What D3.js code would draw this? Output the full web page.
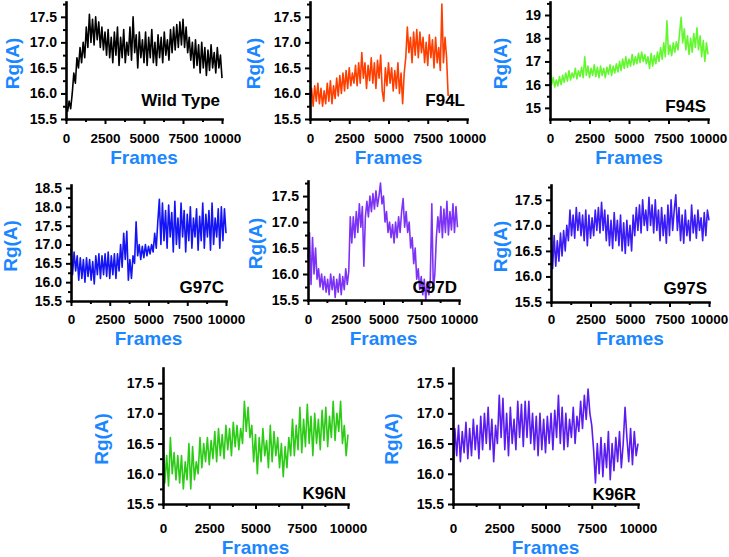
<!DOCTYPE html>
<html>
<head>
<meta charset="utf-8">
<script src="https://cdn.jsdelivr.net/npm/d3@7/dist/d3.min.js"></script>
<style>
  body { margin: 0; background: #fff; }
  svg text { font-family: Arial, "Liberation Sans", sans-serif; font-weight: bold; }
</style>
</head>
<body>
<div id="chart"></div>
<script>
// Rg over frames, one value every 100 frames
const frameStep = 100;

const wildType = [
  15.75, 15.65, 15.85, 15.7, 16.0, 16.4, 16.2, 16.7, 16.5, 16.9,
  16.6, 17.0, 16.7, 17.3, 16.9, 17.55, 17.0, 17.45, 16.95, 17.5,
  17.05, 17.4, 16.9, 17.3, 16.85, 17.2, 16.75, 17.25, 16.7, 17.1,
  16.6, 17.2, 16.75, 17.3, 16.55, 17.1, 16.7, 17.25, 16.6, 17.0,
  16.75, 17.3, 16.65, 17.5, 16.8, 17.15, 16.5, 17.2, 16.7, 17.05,
  16.6, 17.2, 16.55, 17.1, 16.7, 17.25, 16.6, 17.0, 16.55, 17.15,
  16.7, 17.1, 16.6, 17.2, 16.75, 17.05, 16.65, 17.25, 16.8, 17.3,
  16.85, 17.35, 16.9, 17.4, 16.95, 17.45, 16.9, 17.3, 16.8, 17.1,
  16.65, 17.0, 16.5, 17.05, 16.55, 16.95, 16.4, 17.0, 16.5, 16.9,
  16.35, 16.85, 16.45, 16.95, 16.5, 16.8, 16.4, 16.9, 16.5, 16.75, 16.3
];

const f94l = [
  15.9, 16.1, 15.75, 16.15, 15.85, 16.2, 15.8, 16.1, 15.75, 16.05,
  15.8, 16.2, 15.85, 16.25, 15.8, 16.15, 15.9, 16.3, 15.95, 16.35,
  16.0, 16.4, 16.05, 16.45, 16.1, 16.5, 16.15, 16.4, 16.2, 16.55,
  16.15, 16.6, 16.2, 16.8, 16.3, 16.6, 16.1, 16.55, 16.25, 16.7,
  16.2, 16.6, 16.1, 16.65, 16.3, 16.75, 16.05, 15.85, 16.5, 16.15,
  16.6, 16.2, 16.5, 16.05, 16.45, 16.1, 16.6, 16.0, 16.4, 15.8,
  16.4, 16.7, 17.3, 16.8, 17.1, 16.6, 17.2, 16.75, 17.25, 16.7,
  17.2, 16.8, 17.1, 16.6, 17.0, 16.55, 17.15, 16.7, 17.05, 16.5,
  17.1, 16.6, 16.9, 16.45, 17.75, 16.6, 17.1, 16.7, 15.95
];

const f94s = [
  16.8, 16.0, 16.3, 15.9, 16.2, 15.95, 16.35, 16.0, 16.4, 16.1,
  16.5, 16.15, 16.6, 16.2, 16.5, 16.3, 16.7, 16.25, 16.6, 16.35,
  16.75, 16.3, 17.2, 16.4, 16.8, 16.3, 16.7, 16.4, 16.85, 16.35,
  16.75, 16.3, 16.8, 16.4, 16.7, 16.3, 16.75, 16.45, 16.85, 16.4,
  16.8, 16.5, 16.9, 16.55, 17.0, 16.6, 17.1, 16.7, 17.2, 16.75,
  17.1, 16.8, 17.3, 16.85, 17.2, 16.9, 17.35, 16.95, 17.4, 17.0,
  17.3, 16.9, 17.2, 16.7, 17.35, 16.8, 17.25, 16.9, 17.4, 17.0,
  17.6, 17.1, 17.8, 17.2, 18.75, 17.3, 17.7, 17.25, 17.8, 17.4,
  17.85, 17.5, 18.2, 18.9, 17.8, 18.4, 17.5, 18.1, 17.3, 18.0,
  17.4, 18.2, 17.6, 18.45, 17.5, 18.1, 17.2, 17.9, 17.0, 17.8, 17.3
];

const g97c = [
  16.9, 16.2, 16.8, 16.3, 16.7, 16.05, 16.65, 16.1, 16.6, 16.0,
  16.65, 16.15, 16.6, 16.05, 16.55, 15.95, 16.7, 16.2, 16.75, 16.1,
  16.7, 16.2, 16.75, 16.15, 16.8, 16.1, 16.7, 16.2, 16.75, 16.1,
  16.75, 16.3, 17.0, 16.4, 17.3, 16.6, 17.35, 16.05, 16.6, 16.1,
  16.7, 16.5, 17.6, 16.7, 17.0, 16.6, 16.95, 16.65, 17.0, 16.7,
  16.95, 16.75, 17.0, 16.8, 17.3, 16.9, 17.6, 18.2, 17.0, 18.1,
  17.1, 17.9, 16.9, 18.05, 17.2, 17.85, 16.8, 18.15, 17.0, 17.7,
  16.9, 18.1, 17.2, 17.9, 16.8, 17.8, 17.1, 18.0, 16.9, 17.7,
  17.2, 17.95, 16.85, 17.75, 17.1, 18.1, 16.9, 17.8, 17.2, 17.9,
  16.85, 18.1, 17.0, 17.7, 17.2, 17.95, 16.9, 18.0, 17.1, 17.95, 17.3
];

const g97d = [
  16.3, 16.8, 15.8, 16.7, 16.0, 16.5, 15.9, 16.1, 15.75, 16.0,
  15.7, 15.95, 15.65, 15.9, 15.6, 16.0, 15.7, 15.95, 15.55, 15.9,
  15.65, 16.0, 15.6, 15.95, 15.7, 16.1, 15.8, 16.05, 17.1, 16.6,
  17.1, 16.7, 17.2, 16.8, 17.35, 16.9, 17.3, 16.15, 17.1, 17.4,
  17.1, 17.5, 17.2, 17.55, 17.25, 17.6, 17.3, 17.5, 17.75, 17.35,
  17.5, 17.0, 17.2, 16.8, 17.0, 16.7, 16.95, 16.6, 17.0, 16.7,
  17.1, 16.8, 17.2, 17.45, 16.9, 17.2, 16.8, 17.0, 16.5, 16.7,
  16.2, 16.5, 15.9, 16.1, 15.7, 15.95, 15.6, 15.9, 15.5, 15.85,
  15.6, 15.9, 17.35, 15.7, 16.0, 16.7, 17.1, 16.8, 17.3, 16.7,
  17.25, 16.8, 17.4, 16.75, 17.2, 16.85, 17.35, 16.8, 17.3, 16.9
];

const g97s = [
  16.95, 16.15, 16.8, 16.2, 16.7, 16.3, 16.85, 16.4, 16.9, 16.5,
  17.0, 16.7, 17.3, 16.8, 17.2, 16.75, 17.35, 16.9, 17.25, 16.8,
  17.2, 16.7, 17.3, 16.6, 17.2, 16.75, 17.15, 16.8, 17.3, 16.9,
  17.35, 16.85, 17.45, 16.9, 17.3, 16.7, 17.2, 16.6, 17.1, 16.55,
  17.25, 16.7, 17.1, 16.6, 17.2, 16.5, 17.05, 16.45, 17.1, 16.6,
  17.0, 16.5, 17.2, 16.8, 17.35, 16.9, 17.4, 16.85, 17.5, 17.0,
  17.3, 16.9, 17.55, 17.0, 17.4, 16.85, 17.5, 16.9, 17.3, 16.7,
  17.35, 16.8, 17.2, 16.65, 17.4, 16.8, 17.5, 16.9, 17.3, 17.6,
  16.9, 17.35, 16.7, 17.2, 16.65, 17.3, 16.8, 17.1, 16.7, 17.4,
  16.85, 17.2, 16.75, 17.3, 16.9, 17.15, 16.7, 17.25, 16.8, 17.3, 17.1
];

const k96n = [
  16.5, 15.85, 16.3, 15.8, 16.6, 16.0, 16.35, 15.9, 16.3, 15.85,
  16.3, 15.75, 16.2, 15.9, 16.5, 15.75, 16.45, 15.9, 16.2, 16.0,
  16.6, 16.1, 16.5, 16.2, 16.6, 16.15, 16.55, 16.25, 16.7, 16.2,
  16.75, 16.3, 16.65, 16.25, 16.8, 16.4, 16.75, 16.3, 16.85, 16.45,
  16.8, 16.4, 16.75, 16.5, 17.2, 16.7, 17.1, 16.6, 16.8, 16.2,
  16.65, 16.0, 16.6, 16.2, 16.75, 16.3, 16.55, 16.1, 16.8, 16.2,
  16.7, 16.3, 16.6, 16.1, 16.5, 15.95, 16.45, 16.1, 16.6, 16.3,
  16.9, 16.3, 16.8, 16.4, 17.1, 16.35, 16.9, 16.45, 17.15, 16.5,
  16.95, 16.3, 17.0, 16.5, 16.9, 16.4, 17.05, 16.55, 17.1, 16.45,
  16.95, 16.6, 17.2, 16.55, 17.0, 16.7, 17.2, 16.5, 16.8, 16.3, 16.65
];

const k96r = [
  16.0, 16.75, 16.3, 16.8, 16.2, 16.7, 16.35, 16.85, 16.25, 16.75,
  16.3, 16.9, 16.4, 16.8, 16.25, 16.95, 16.4, 17.0, 16.5, 17.1,
  16.4, 16.9, 16.2, 16.8, 16.5, 17.3, 16.6, 17.25, 16.4, 17.0,
  16.3, 17.1, 16.5, 16.9, 16.4, 17.2, 16.6, 17.15, 16.45, 17.2,
  16.6, 17.2, 16.5, 17.0, 16.4, 16.95, 16.3, 17.0, 16.4, 16.9,
  16.35, 16.95, 16.5, 17.0, 16.4, 17.05, 16.6, 17.3, 16.5, 17.1,
  16.4, 17.0, 16.45, 16.9, 16.6, 17.1, 16.5, 16.95, 16.7, 17.2,
  16.75, 17.3, 16.9, 17.4, 17.0, 16.8, 16.4, 15.85, 16.5, 16.0,
  16.6, 15.95, 16.5, 16.1, 16.7, 15.9, 16.5, 16.05, 16.6, 16.2,
  16.7, 16.1, 16.5, 17.1, 16.6, 16.2, 16.75, 16.15, 16.7, 16.3, 16.5
];

const frameTicks = [0, 2500, 5000, 7500, 10000];
const frameMinor = [1250, 3750, 6250, 8750];
const rgTicks = [15.5, 16.0, 16.5, 17.0, 17.5];
const rgTicksF94S = [15, 16, 17, 18, 19];
const rgTicksG97C = [15.5, 16.0, 16.5, 17.0, 17.5, 18.0, 18.5];

const width = 729, height = 557;
const titleBlue = "#1a86ff";

// panel boxes
const panels = [
  {name: "Wild Type", data: wildType, color: "#000000", l: 66,  r: 222, t: 2,   b: 119, dom: [15.5, 17.79], ticks: rgTicks, fmt: ".1f", minorStep: 0.25, ylab: 54, tickBase: 143, titleBase: 164, nameBase: 106},
  {name: "F94L",      data: f94l,     color: "#ff3f00", l: 310, r: 467, t: 2,   b: 119, dom: [15.5, 17.79], ticks: rgTicks, fmt: ".1f", minorStep: 0.25, ylab: 57, tickBase: 143, titleBase: 164, nameBase: 106},
  {name: "F94S",      data: f94s,     color: "#63f72f", l: 550, r: 708, t: 2,   b: 119, dom: [14.52, 19.56], ticks: rgTicksF94S, fmt: "d", minorStep: 0.5, ylab: 50, tickBase: 143, titleBase: 164, nameBase: 112},
  {name: "G97C",      data: g97c,     color: "#1414f5", l: 71,  r: 226, t: 185, b: 301, dom: [15.5, 18.58], ticks: rgTicksG97C, fmt: ".1f", minorStep: 0.25, ylab: 61, tickBase: 324, titleBase: 345, nameBase: 293},
  {name: "G97D",      data: g97d,     color: "#7d33f7", l: 308, r: 459, t: 181, b: 300, dom: [15.5, 17.79], ticks: rgTicks, fmt: ".1f", minorStep: 0.25, ylab: 53, tickBase: 324, titleBase: 345, nameBase: 293},
  {name: "G97S",      data: g97s,     color: "#3b1cf7", l: 551, r: 709, t: 185, b: 302, dom: [15.5, 17.79], ticks: rgTicks, fmt: ".1f", minorStep: 0.25, ylab: 51, tickBase: 324, titleBase: 345, nameBase: 294},
  {name: "K96N",      data: k96n,     color: "#2ccc16", l: 163, r: 348, t: 368, b: 504, dom: [15.5, 17.75], ticks: rgTicks, fmt: ".1f", minorStep: 0.25, ylab: 62, tickBase: 533, titleBase: 554, nameBase: 499},
  {name: "K96R",      data: k96r,     color: "#5a1cf0", l: 453, r: 638, t: 368, b: 504, dom: [15.5, 17.75], ticks: rgTicks, fmt: ".1f", minorStep: 0.25, ylab: 62, tickBase: 533, titleBase: 554, nameBase: 500}
];

const svg = d3.select("#chart").append("svg")
  .attr("width", width)
  .attr("height", height);

panels.forEach(function (p) {
  const x = d3.scaleLinear().domain([0, 10000]).range([p.l, p.r]);
  const y = d3.scaleLinear().domain(p.dom).range([p.b, p.t]);
  const g = svg.append("g");

  // trace
  const line = d3.line()
    .x((d, i) => x(i * frameStep))
    .y(d => y(d));
  g.append("path")
    .datum(p.data)
    .attr("fill", "none")
    .attr("stroke", p.color)
    .attr("stroke-width", 1.6)
    .attr("stroke-linejoin", "round")
    .attr("d", line);

  // minor ticks
  const minorY = d3.range(p.dom[0] + 1e-6, p.dom[1], p.minorStep)
    .map(v => Math.round(v / p.minorStep) * p.minorStep)
    .filter(v => v >= p.dom[0] && v <= p.dom[1] && p.ticks.indexOf(v) < 0);
  g.append("g")
    .attr("transform", "translate(" + p.l + ",0)")
    .call(d3.axisLeft(y).tickValues(minorY).tickSize(3).tickFormat(""))
    .call(a => a.select(".domain").remove())
    .selectAll("line").attr("stroke-width", 2);
  g.append("g")
    .attr("transform", "translate(0," + p.b + ")")
    .call(d3.axisBottom(x).tickValues(frameMinor).tickSize(3).tickFormat(""))
    .call(a => a.select(".domain").remove())
    .selectAll("line").attr("stroke-width", 2);

  // y axis
  const yAxis = g.append("g")
    .attr("transform", "translate(" + p.l + ",0)")
    .call(d3.axisLeft(y).tickValues(p.ticks).tickFormat(d3.format(p.fmt)).tickSize(5).tickSizeOuter(0).tickPadding(4));
  yAxis.select(".domain").attr("stroke-width", 2.6).attr("stroke-linecap", "square");
  yAxis.selectAll(".tick line").attr("stroke-width", 2);
  yAxis.selectAll(".tick text")
    .attr("font-size", 14)
    .attr("font-family", "Arial, 'Liberation Sans', sans-serif")
    .attr("font-weight", "bold")
    .attr("fill", "#000");

  // x axis
  const xAxis = g.append("g")
    .attr("transform", "translate(0," + p.b + ")")
    .call(d3.axisBottom(x).tickValues(frameTicks).tickFormat(d3.format("d")).tickSize(5).tickSizeOuter(0));
  xAxis.select(".domain").attr("stroke-width", 2.6).attr("stroke-linecap", "square");
  xAxis.selectAll(".tick line").attr("stroke-width", 2);
  xAxis.selectAll(".tick text")
    .attr("y", null).attr("dy", null)
    .attr("transform", "translate(0," + (p.tickBase - p.b) + ")")
    .attr("font-size", 13.5)
    .attr("font-family", "Arial, 'Liberation Sans', sans-serif")
    .attr("font-weight", "bold")
    .attr("fill", "#000");

  // titles
  g.append("text")
    .attr("x", (p.l + p.r) / 2)
    .attr("y", p.titleBase)
    .attr("text-anchor", "middle")
    .attr("font-size", 19)
    .attr("fill", titleBlue)
    .text("Frames");

  g.append("text")
    .attr("transform", "translate(" + (p.l - p.ylab) + "," + ((p.t + p.b) / 2 + 3) + ") rotate(-90)")
    .attr("text-anchor", "middle")
    .attr("dominant-baseline", "central")
    .attr("font-size", 19)
    .attr("fill", titleBlue)
    .text("Rg(A)");

  g.append("text")
    .attr("x", p.r - 2)
    .attr("y", p.nameBase)
    .attr("text-anchor", "end")
    .attr("font-size", 17)
    .attr("fill", "#000")
    .text(p.name);
});
</script>
</body>
</html>
